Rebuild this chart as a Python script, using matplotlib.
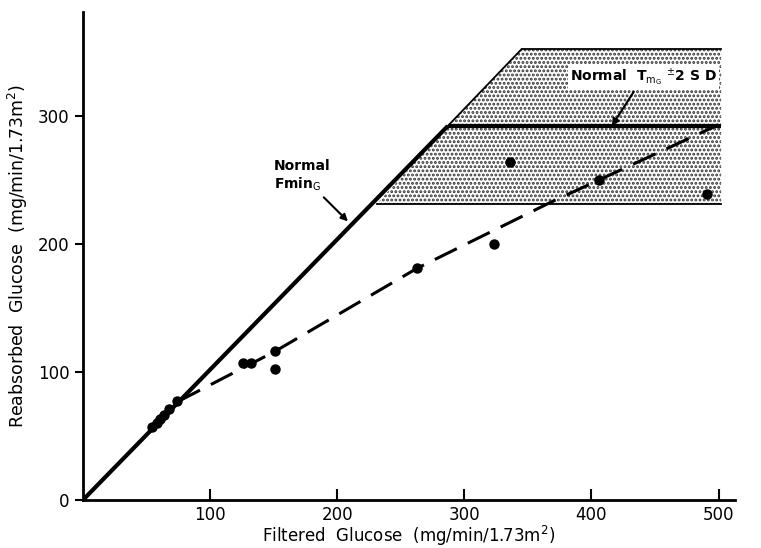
import matplotlib
matplotlib.use("Agg")
import matplotlib.pyplot as plt
from matplotlib.patches import Polygon

plt.rcParams["font.family"] = ["DejaVu Sans"]
plt.rcParams["hatch.linewidth"] = 1.4

# patient data (filtered vs reabsorbed glucose, mg/min/1.73m2)
filtered = [54, 58, 61, 64, 68, 74, 126, 132, 151, 151, 263, 323, 336, 406, 491]
reabsorbed = [57, 60, 63, 66, 71, 77, 107, 107, 116, 102, 181, 200, 264, 250, 239]

# fitted dashed curve through the patient data
fit_x = [75, 151, 263, 367, 500]
fit_y = [77, 116, 181, 232, 293]

# normal Fmin (y = x) and normal Tm
fmin_x = [0, 287]
fmin_y = [0, 292]
tm_x = [287, 502]
tm_y = [292, 292]

# Tm +/- 2 SD band
band_low = 231
band_high = 352
band_left_low = 231
band_left_high = 345
band_right = 502

fig = plt.figure(figsize=(7.61, 5.48), dpi=100)
ax = fig.add_axes([0.109, 0.0876, 0.857, 0.8905])

# stippled band: lower part (below Tm) and upper part (above Tm)
lower = Polygon([(band_left_low, band_low), (tm_x[0], tm_y[0]),
                 (band_right, tm_y[0]), (band_right, band_low)],
                closed=True, facecolor="white", edgecolor="#333333",
                hatch="....", linewidth=0)
upper = Polygon([(tm_x[0], tm_y[0]), (band_left_high, band_high),
                 (band_right, band_high), (band_right, tm_y[0])],
                closed=True, facecolor="white", edgecolor="#333333",
                hatch="....", linewidth=0)
ax.add_patch(lower)
ax.add_patch(upper)

# thin band edges
ax.plot([band_left_low, band_right], [band_low, band_low], color="black", lw=1.3)
ax.plot([band_left_high, band_right], [band_high, band_high], color="black", lw=1.3)
ax.plot([tm_x[0], band_left_high], [tm_y[0], band_high], color="black", lw=1.3)

# normal lines
ax.plot(fmin_x, fmin_y, color="black", lw=3.0, solid_capstyle="butt")
ax.plot(tm_x, tm_y, color="black", lw=3.0, solid_capstyle="butt")

# fitted dashed line and data points
ax.plot(fit_x, fit_y, color="black", lw=2.2, dashes=(8, 4))
ax.plot(filtered, reabsorbed, "o", color="black", markersize=6.5)

# annotations
ax.annotate("Normal\nFmin$_\\mathsf{G}$", xy=(210, 216), xytext=(150, 240),
            fontsize=10, fontweight="bold", ha="left", va="bottom",
            arrowprops=dict(arrowstyle="-|>", color="black", lw=1.5))
ax.annotate("Normal  T$_{\\mathsf{m_G}}$ $^{\\pm}$2 S D", xy=(416, 292),
            xytext=(383, 322), fontsize=10, fontweight="bold",
            ha="left", va="bottom",
            bbox=dict(boxstyle="square,pad=0.15", facecolor="white", edgecolor="none"),
            arrowprops=dict(arrowstyle="-|>", color="black", lw=1.5,
                            shrinkA=2, shrinkB=0))

ax.set_xlim(0, 513)
ax.set_ylim(0, 381)
ax.set_xticks([100, 200, 300, 400, 500])
ax.set_yticks([0, 100, 200, 300])
ax.tick_params(axis="x", direction="in", length=8, width=1.5, labelsize=12, pad=4)
ax.tick_params(axis="y", direction="out", length=6, width=1.5, labelsize=12)

for side in ["top", "right"]:
    ax.spines[side].set_visible(False)
for side in ["left", "bottom"]:
    ax.spines[side].set_linewidth(2.0)

ax.set_xlabel("Filtered  Glucose  (mg/min/1.73m$^2$)", fontsize=12, labelpad=0)
ax.set_ylabel("Reabsorbed  Glucose  (mg/min/1.73m$^2$)", fontsize=12.5, labelpad=6)

fig.savefig("out.png", dpi=100)
